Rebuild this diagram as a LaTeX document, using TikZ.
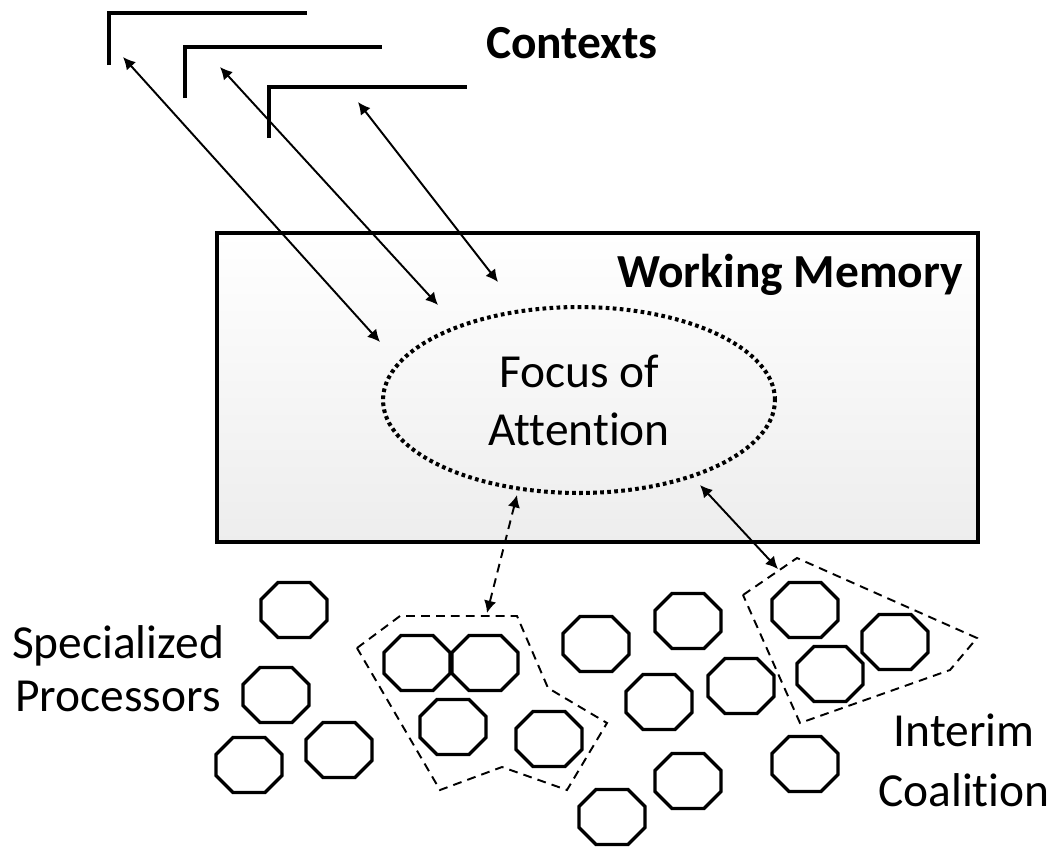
\documentclass[tikz,border=0pt]{standalone}
\usepackage{fontspec}
\setmainfont{Carlito}[Ligatures=NoCommon]
\usetikzlibrary{arrows.meta,shapes.geometric}

\tikzset{
  thickline/.style={line width=1.9pt},
  link/.style={{Latex[length=7pt,width=7pt]}-{Latex[length=7pt,width=7pt]}, line width=1.1pt},
  coalition/.style={line width=1.1pt, dash pattern=on 5pt off 3.5pt},
  lbl/.style={font=\fontsize{27}{33}\selectfont, align=center, inner sep=0pt},
  proc/.pic={\draw[thickline] (-16,-27.5) -- (16,-27.5) -- (33,-10.5) -- (33,10.5)
      -- (16,27.5) -- (-16,27.5) -- (-33,10.5) -- (-33,-10.5) -- cycle;}
}

\begin{document}
\begin{tikzpicture}[x=0.02cm,y=-0.02cm]
\useasboundingbox (0,0) rectangle (1052,846);

% contexts
\draw[thickline] (109,65) -- (109,13) -- (307,13);
\draw[thickline] (185,98) -- (185,47) -- (382,47);
\draw[thickline] (269,138) -- (269,87) -- (467,87);
\node[lbl, font=\fontsize{27}{33}\selectfont\bfseries, anchor=base] (ctxlbl) at (572,58) {Contexts};

% working memory
\node (wm) [draw, thickline, top color=white, bottom color=gray!14,
  minimum width=15.22cm, minimum height=6.18cm] at (597.5,387.5) {};
\node[lbl, font=\fontsize{27}{33}\selectfont\bfseries, anchor=base east] (wmlbl) at (963,287) {Working Memory};

\node (focus) [ellipse, draw, line width=2.3pt, dash pattern=on 2.1pt off 1.9pt,
  minimum width=7.84cm, minimum height=3.72cm, inner sep=0pt, lbl,
  font=\fontsize{27}{33}\selectfont] at (579,400) {Focus of\\Attention};

\coordinate (ctx1) at (123,57);
\coordinate (ctx2) at (220,67);
\coordinate (ctx3) at (358,102);
\coordinate (wm1) at (380,342);
\coordinate (wm2) at (438,305);
\coordinate (wm3) at (498,282);
\coordinate (fbot) at (517,495);
\coordinate (fright) at (700,485);
\coordinate (co1) at (487,613);
\coordinate (co2) at (778,569);

\draw[link] (ctx1) -- (wm1);
\draw[link] (ctx2) -- (wm2);
\draw[link] (ctx3) -- (wm3);
\draw[link, dash pattern=on 5pt off 3.5pt] (fbot) -- (co1);
\draw[link] (fright) -- (co2);

% coalitions
\draw[coalition] (357,648) -- (400,616) -- (517,616) -- (548,688) -- (607,723)
  -- (567,790) -- (502,767) -- (440,790) -- cycle;
\draw[coalition] (743,595) -- (797,558) -- (977,638) -- (950,670) -- (800,723) -- cycle;

% processors
\pic at (294,610) {proc};
\pic at (276,695) {proc};
\pic at (249,765) {proc};
\pic at (339,750) {proc};
\pic at (417,663) {proc};
\pic at (485,663) {proc};
\pic at (453,727) {proc};
\pic at (549,739) {proc};
\pic at (596,644) {proc};
\pic at (612,817) {proc};
\pic at (688,621) {proc};
\pic at (659,702) {proc};
\pic at (741,686) {proc};
\pic at (688,781) {proc};
\pic at (805,610) {proc};
\pic at (895,642) {proc};
\pic at (830,674) {proc};
\pic at (805,764) {proc};

\node[lbl, font=\fontsize{27}{30}\selectfont] (spec) at (118,669) {Specialized\\Processors};
\node[lbl, font=\fontsize{27}{34}\selectfont] (interim) at (964,760) {Interim\\Coalition};
\end{tikzpicture}
\end{document}
